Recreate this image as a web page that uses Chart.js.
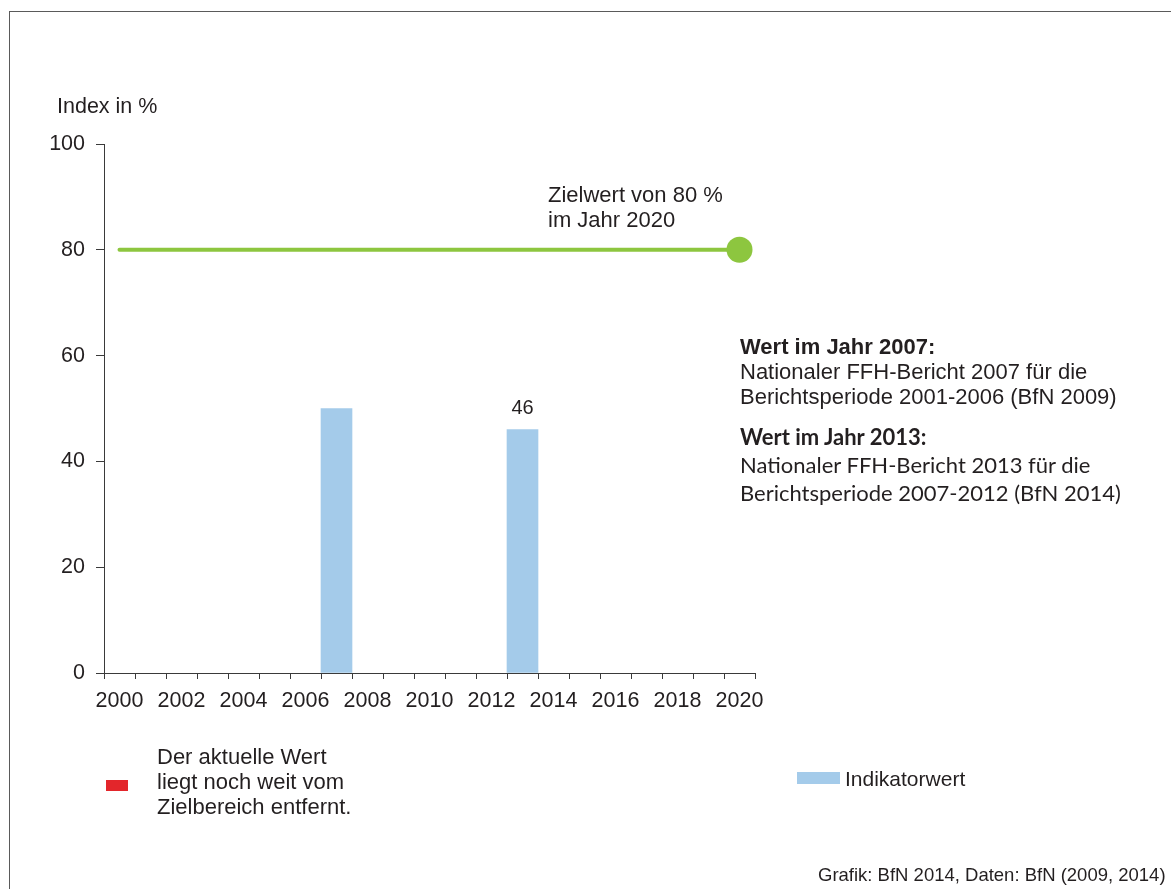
<!DOCTYPE html>
<html lang="de">
<head>
<meta charset="utf-8">
<title>Index in %</title>
<script src="https://cdn.jsdelivr.net/npm/chart.js@4/dist/chart.umd.min.js"></script>
<style>
  html, body {
    margin: 0;
    padding: 0;
    background: #ffffff;
  }
  #wrap {
    position: relative;
    width: 1171px;
    height: 889px;
    overflow: hidden;
    font-family: "Liberation Sans", Arial, sans-serif;
    color: #231f20;
  }
  #frame {
    position: absolute;
    left: 9px;
    top: 11px;
    width: 1200px;
    height: 900px;
    border-left: 1px solid #5a5a5a;
    border-top: 1px solid #5a5a5a;
  }
  canvas {
    position: absolute;
    left: 0;
    top: 0;
  }
  .txt {
    position: absolute;
    font-size: 22px;
    line-height: 25px;
    white-space: nowrap;
  }
  .calibri {
    font-family: Lato, "Open Sans", sans-serif;
    line-height: 28px;
  }
  .swatch {
    position: absolute;
  }
</style>
</head>
<body>
<div id="wrap">
  <div id="frame"></div>
  <canvas id="chart" width="1171" height="889"></canvas>

  <div class="txt" style="left:57px; top:94px; font-size:21.5px;">Index in %</div>

  <div class="txt" style="left:548px; top:182px;">Zielwert von 80 %<br>im Jahr 2020</div>

  <div class="txt" style="left:740px; top:334px;">
    <b>Wert im Jahr 2007:</b><br>
    Nationaler FFH-Bericht 2007 für die<br>
    Berichtsperiode 2001-2006 (BfN 2009)
  </div>
  <div class="txt calibri" style="left:740px; top:423px;">
    <b>Wert im Jahr 2013:</b><br>
    Nationaler FFH-Bericht 2013 für die<br>
    Berichtsperiode 2007-2012 (BfN 2014)
  </div>

  <div class="swatch" style="left:106px; top:780px; width:22px; height:11px; background:#e3262b;"></div>
  <div class="txt" style="left:157px; top:744px;">Der aktuelle Wert<br>liegt noch weit vom<br>Zielbereich entfernt.</div>

  <div class="swatch" style="left:797px; top:772px; width:43px; height:12px; background:#a4cbea;"></div>
  <div class="txt" id="barLegend" style="left:845px; top:766px; font-size:21px;"></div>

  <div class="txt" style="left:818px; top:864px; font-size:18.5px; line-height:22px;">Grafik: BfN 2014, Daten: BfN (2009, 2014)</div>
</div>

<script>
  // Jahre auf der x-Achse
  const years = [
    "2000", "2001", "2002", "2003", "2004", "2005", "2006", "2007", "2008", "2009", "2010",
    "2011", "2012", "2013", "2014", "2015", "2016", "2017", "2018", "2019", "2020"
  ];

  // Indikatorwert (FFH-Berichte 2007 und 2013)
  const indicatorValues = [
    null, null, null, null, null, null, null, 50, null, null, null,
    null, null, 46, null, null, null, null, null, null, null
  ];

  // Zielwert 80 % bis 2020
  const targetValues = [
    80, null, null, null, null, null, null, null, null, null, null,
    null, null, null, null, null, null, null, null, null, 80
  ];

  const yTicks = [0, 20, 40, 60, 80, 100];
  const labelledYears = ["2013"];

  const axisColor = "#3a3a3a";
  const textColor = "#231f20";

  document.getElementById("barLegend").textContent = "Indikatorwert";

  // Wert über dem Balken
  const valueLabels = {
    id: "valueLabels",
    afterDatasetsDraw(chart) {
      const ctx = chart.ctx;
      const meta = chart.getDatasetMeta(0);
      ctx.save();
      ctx.font = "20px 'Liberation Sans', Arial, sans-serif";
      ctx.fillStyle = textColor;
      ctx.textAlign = "center";
      ctx.textBaseline = "alphabetic";
      meta.data.forEach((bar, i) => {
        if (indicatorValues[i] == null || !labelledYears.includes(years[i])) return;
        ctx.fillText(String(indicatorValues[i]), bar.x, bar.y - 16);
      });
      ctx.restore();
    }
  };

  const config = {
    data: {
      labels: years,
      datasets: [
        {
          type: "bar",
          label: "Indikatorwert",
          data: indicatorValues,
          backgroundColor: "#a4cbea",
          barPercentage: 1,
          categoryPercentage: 1,
          order: 2,
        },
        {
          type: "line",
          label: "Zielwert",
          data: targetValues,
          spanGaps: true,
          borderColor: "#8dc63f",
          backgroundColor: "#8dc63f",
          borderWidth: 4,
          borderCapStyle: "round",
          pointRadius: (ctx) => (ctx.dataIndex === years.length - 1 ? 13 : 0),
          pointBorderWidth: 0,
          pointHoverRadius: 0,
          order: 1,
        },
      ],
    },
    options: {
      responsive: false,
      animation: false,
      events: [],
      layout: {
        padding: {top: 144, right: 416, bottom: 0, left: 0},
      },
      plugins: {
        legend: {display: false},
        tooltip: {enabled: false},
      },
      scales: {
        x: {
          type: "category",
          offset: true,
          afterFit: (scale) => {
            scale.height = 216;
          },
          grid: {
            offset: true,
            drawOnChartArea: false,
            drawTicks: true,
            tickLength: 6,
            color: axisColor,
            lineWidth: 1,
          },
          border: {color: axisColor, width: 1},
          ticks: {
            autoSkip: false,
            maxRotation: 0,
            padding: 9,
            color: textColor,
            font: {family: "'Liberation Sans', Arial, sans-serif", size: 21.5},
            callback: (value, index) => (Number(years[index]) % 2 === 0 ? years[index] : ""),
          },
        },
        y: {
          min: 0,
          max: 100,
          afterFit: (scale) => {
            scale.width = 104;
          },
          afterBuildTicks: (scale) => {
            scale.ticks = yTicks.map((v) => ({value: v}));
          },
          grid: {
            drawOnChartArea: false,
            drawTicks: true,
            tickLength: 8,
            color: axisColor,
          },
          border: {color: axisColor, width: 1},
          ticks: {
            padding: 11,
            color: textColor,
            font: {family: "'Liberation Sans', Arial, sans-serif", size: 21.5},
          },
        },
      },
    },
    plugins: [valueLabels],
  };

  new Chart(document.getElementById("chart"), config);
</script>
</body>
</html>
